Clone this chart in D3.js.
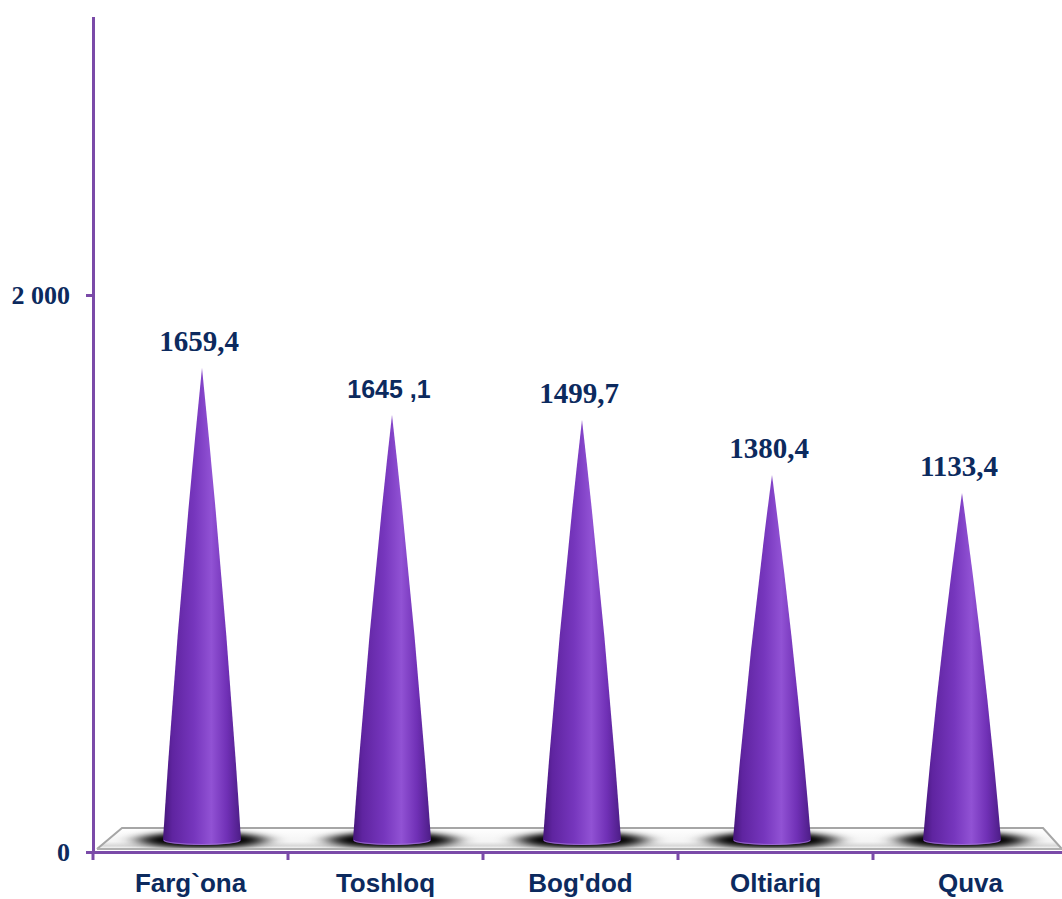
<!DOCTYPE html>
<html>
<head>
<meta charset="utf-8">
<script src="https://cdn.jsdelivr.net/npm/d3@7"></script>
<style>
  body { margin: 0; background: #fff; }
  svg { display: block; }
</style>
</head>
<body>
<svg id="chart"></svg>
<script>
// data
const categories = ["Farg`ona", "Toshloq", "Bog'dod", "Oltiariq", "Quva"];
const valueLabels = ["1659,4", "1645 ,1", "1499,7", "1380,4", "1133,4"];
const coneHeights = [1695, 1526, 1508, 1311, 1246]; // heights as drawn against the axis
const yTicks = [0, 2000];

const width = 1062, height = 899;
const navy = "#0c2a5e";
const axisPurple = "#7a4aa8";

const svg = d3.select("#chart").attr("width", width).attr("height", height);
const defs = svg.append("defs");

// scales
const y = d3.scaleLinear().domain([0, 3000]).range([852, 16.5]);
const depth = 12; // floor sits a bit behind the axis line
const x = d3.scaleBand().domain(categories).range([93, 1068]);
const xc = d3.scaleBand().domain(categories).range([107, 1057]); // cone centres on the floor

// gradients
const cg = defs.append("linearGradient").attr("id", "cone").attr("x1", 0).attr("x2", 1).attr("y1", 0).attr("y2", 0);
[["0%", "#45167a"], ["12%", "#5f24a0"], ["40%", "#7636bd"], ["62%", "#9152d4"], ["82%", "#7030b6"], ["100%", "#4c1d86"]]
  .forEach(s => cg.append("stop").attr("offset", s[0]).attr("stop-color", s[1]));

const fg = defs.append("linearGradient").attr("id", "floor").attr("x1", 0).attr("x2", 0).attr("y1", 0).attr("y2", 1);
[["0%", "#ffffff"], ["65%", "#f4f4f4"], ["85%", "#d8d8d8"], ["100%", "#ffffff"]]
  .forEach(s => fg.append("stop").attr("offset", s[0]).attr("stop-color", s[1]));

const blur = defs.append("filter").attr("id", "blur").attr("x", "-50%").attr("y", "-100%").attr("width", "200%").attr("height", "300%");
blur.append("feGaussianBlur").attr("stdDeviation", "11 2.5");

// floor
const floorPts = [[97, 849], [122, 828], [1043, 828], [1062, 849]];
defs.append("clipPath").attr("id", "floorClip")
  .append("polygon").attr("points", floorPts.map(p => p.join(",")).join(" "));

svg.append("polygon")
  .attr("points", floorPts.map(p => p.join(",")).join(" "))
  .attr("fill", "url(#floor)");

svg.append("g").attr("clip-path", "url(#floorClip)")
  .selectAll("ellipse").data(categories).enter().append("ellipse")
  .attr("cx", d => xc(d) + xc.bandwidth() / 2)
  .attr("cy", y(0) - depth)
  .attr("rx", 64).attr("ry", 8)
  .attr("fill", "#000")
  .attr("filter", "url(#blur)");

svg.append("polyline")
  .attr("points", floorPts.map(p => p.join(",")).join(" "))
  .attr("fill", "none").attr("stroke", "#a6a6a6").attr("stroke-width", 2);
svg.append("line")
  .attr("x1", 97).attr("x2", 1062).attr("y1", 849).attr("y2", 849)
  .attr("stroke", "#b0b0b0").attr("stroke-width", 2);

// cones
const r = 39, ry = 5;
const cones = svg.append("g").selectAll("g").data(categories).enter().append("g");
cones.append("path")
  .attr("fill", "url(#cone)")
  .attr("d", (d, i) => {
    const cx = xc(d) + xc.bandwidth() / 2;
    const base = y(0) - depth;
    const tip = y(coneHeights[i]) - depth;
    const mid = (base + tip) / 2;
    return `M${cx - r},${base} Q${cx - 24},${mid} ${cx},${tip} Q${cx + 24},${mid} ${cx + r},${base}` +
      ` A${r},${ry} 0 0 1 ${cx - r},${base} Z`;
  });
cones.append("path")
  .attr("fill", "none").attr("stroke", "#a577da").attr("stroke-width", 1.2).attr("opacity", 0.7)
  .attr("d", d => {
    const cx = xc(d) + xc.bandwidth() / 2;
    const base = y(0) - depth;
    return `M${cx + r - 1},${base} A${r - 1},${ry - 0.5} 0 0 1 ${cx - r + 1},${base}`;
  });

// value labels
svg.append("g").selectAll("text").data(categories).enter().append("text")
  .attr("x", d => xc(d) + xc.bandwidth() / 2 - 3)
  .attr("y", (d, i) => y(coneHeights[i]) - depth - 17)
  .attr("text-anchor", "middle")
  .attr("fill", navy)
  .attr("font-weight", "bold")
  .attr("font-family", (d, i) => i === 1 ? "Liberation Sans, Arial, sans-serif" : "Liberation Serif, Times New Roman, serif")
  .attr("font-size", (d, i) => i === 1 ? 25 : 29)
  .text((d, i) => valueLabels[i]);

// y axis
const yAxis = svg.append("g").attr("transform", "translate(93,0)")
  .call(d3.axisLeft(y).tickValues(yTicks).tickSizeInner(7).tickSizeOuter(0).tickPadding(16)
    .tickFormat(d => d3.format(",")(d).replace(/,/g, " ")));
yAxis.select(".domain").attr("stroke", axisPurple).attr("stroke-width", 3);
yAxis.selectAll(".tick line").attr("stroke", axisPurple).attr("stroke-width", 3);
yAxis.selectAll("text")
  .attr("fill", navy).attr("font-size", 26).attr("font-weight", "bold")
  .attr("font-family", "Liberation Serif, Times New Roman, serif");

// x axis
const xAxis = svg.append("g").attr("transform", `translate(0,${y(0)})`)
  .call(d3.axisBottom(x).tickSize(0).tickPadding(22));
xAxis.select(".domain").attr("stroke", axisPurple).attr("stroke-width", 3);
xAxis.selectAll("text")
  .attr("fill", navy).attr("font-size", 26).attr("font-weight", "bold")
  .attr("font-family", "Liberation Sans, Arial, sans-serif");

// tick marks on the category boundaries
xAxis.selectAll(".bound").data(categories.concat(["_end"])).enter().append("line")
  .attr("class", "bound")
  .attr("x1", (d, i) => i < categories.length ? x(d) : x(categories[i - 1]) + x.bandwidth())
  .attr("x2", (d, i) => i < categories.length ? x(d) : x(categories[i - 1]) + x.bandwidth())
  .attr("y1", 0).attr("y2", 8)
  .attr("stroke", axisPurple).attr("stroke-width", 3);
</script>
</body>
</html>
